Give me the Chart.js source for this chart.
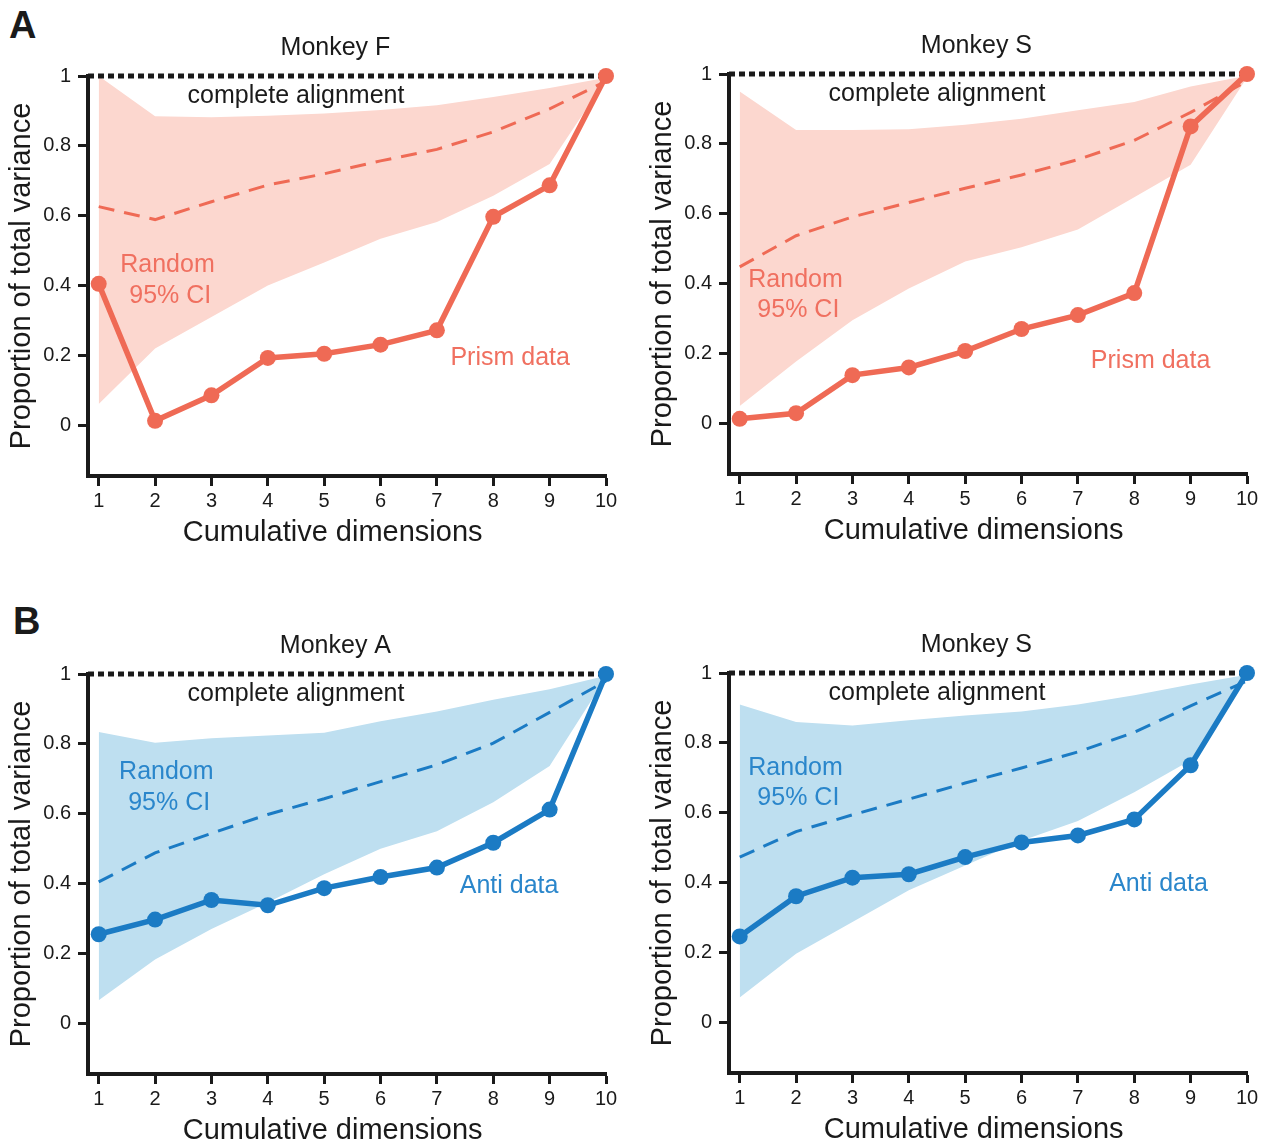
<!DOCTYPE html>
<html>
<head>
<meta charset="utf-8">
<script src="https://cdn.jsdelivr.net/npm/chart.js@4.4.1/dist/chart.umd.min.js"></script>
<style>
  body { margin: 0; background: #fff; width: 1263px; height: 1145px; overflow: hidden; position: relative; font-family: "Liberation Sans", Arial, sans-serif; }
  .panel { position: absolute; }
  .tag { position: absolute; font-weight: bold; font-size: 38px; color: #1a1a1a; line-height: 1; }
</style>
</head>
<body>
<div class="tag" style="left:9px;top:6px">A</div>
<div class="tag" style="left:13px;top:602px">B</div>
<canvas class="panel" id="monkeyF" width="622" height="560" style="left:0;top:0"></canvas>
<canvas class="panel" id="monkeyS1" width="622" height="560" style="left:641px;top:-2px"></canvas>
<canvas class="panel" id="monkeyA" width="622" height="560" style="left:0;top:598px"></canvas>
<canvas class="panel" id="monkeyS2" width="622" height="560" style="left:641px;top:597px"></canvas>
<script>
// axes
const dims = [1, 2, 3, 4, 5, 6, 7, 8, 9, 10];
const yTicks = [0, 0.2, 0.4, 0.6, 0.8, 1];
const X_MIN = 0.81;
const Y_MIN = -0.145;

// A: Monkey F (prism)
const fData  = [0.405, 0.013, 0.086, 0.193, 0.205, 0.231, 0.272, 0.597, 0.687, 1.0];
const fMean  = [0.626, 0.589, 0.640, 0.688, 0.720, 0.757, 0.790, 0.840, 0.906, 0.985];
const fUpper = [1.0, 0.885, 0.882, 0.886, 0.893, 0.903, 0.916, 0.940, 0.966, 0.995];
const fLower = [0.061, 0.220, 0.310, 0.400, 0.466, 0.534, 0.582, 0.657, 0.748, 0.990];

// A: Monkey S (prism)
const s1Data  = [0.013, 0.029, 0.138, 0.160, 0.207, 0.270, 0.310, 0.373, 0.850, 1.0];
const s1Mean  = [0.448, 0.537, 0.591, 0.632, 0.673, 0.711, 0.755, 0.810, 0.890, 0.980];
const s1Upper = [0.950, 0.840, 0.840, 0.842, 0.855, 0.872, 0.896, 0.920, 0.964, 0.995];
const s1Lower = [0.050, 0.177, 0.295, 0.386, 0.463, 0.504, 0.555, 0.647, 0.740, 0.990];

// B: Monkey A (anti)
const aData  = [0.255, 0.297, 0.353, 0.338, 0.387, 0.419, 0.446, 0.517, 0.612, 1.0];
const aMean  = [0.405, 0.488, 0.544, 0.598, 0.643, 0.692, 0.740, 0.802, 0.890, 0.980];
const aUpper = [0.834, 0.803, 0.816, 0.824, 0.832, 0.865, 0.893, 0.926, 0.956, 0.995];
const aLower = [0.066, 0.183, 0.270, 0.346, 0.427, 0.500, 0.550, 0.633, 0.737, 0.990];

// B: Monkey S (anti)
const s2Data  = [0.246, 0.361, 0.414, 0.424, 0.473, 0.515, 0.535, 0.581, 0.736, 1.0];
const s2Mean  = [0.473, 0.546, 0.594, 0.639, 0.685, 0.728, 0.774, 0.830, 0.906, 0.977];
const s2Upper = [0.910, 0.860, 0.850, 0.865, 0.878, 0.890, 0.910, 0.936, 0.967, 0.995];
const s2Lower = [0.071, 0.196, 0.287, 0.378, 0.449, 0.520, 0.576, 0.659, 0.750, 0.990];

const salmon = { line: '#ef6a55', band: '#fcd7cf', text: '#f07060' };
const blue = { line: '#1b7bc4', band: '#bedff0', text: '#2a86cb' };
const INK = '#1a1a1a';
const FONT = '"Liberation Sans", Arial, sans-serif';

const pts = vals => vals.map((v, i) => ({ x: dims[i], y: v }));

// text drawn at data coordinates (titles, labels, x-axis title)
const panelText = {
  id: 'panelText',
  afterDatasetsDraw(chart, args, opts) {
    const { ctx, scales: { x, y } } = chart;
    ctx.save();
    ctx.textAlign = 'center';
    ctx.textBaseline = 'middle';
    opts.items.forEach(it => {
      ctx.font = it.size + 'px ' + FONT;
      ctx.fillStyle = it.color;
      ctx.fillText(it.text, x.getPixelForValue(it.x), y.getPixelForValue(it.y));
    });
    ctx.restore();
  }
};

function makePanel(id, title, dataLabel, data, mean, upper, lower, col, pos) {
  const items = [
    { text: title, x: 5.2, y: 1.08, size: 25, color: INK },
    { text: 'complete alignment', x: 4.5, y: 0.943, size: 25, color: INK },
    { text: 'Random', x: pos.random[0], y: pos.random[1], size: 25, color: col.text },
    { text: '95% CI', x: pos.random[0] + 0.05, y: pos.random[1] - 0.087, size: 25, color: col.text },
    { text: dataLabel, x: pos.data[0], y: pos.data[1], size: 25, color: col.text },
    { text: 'Cumulative dimensions', x: 5.15, y: Y_MIN - 0.163, size: 29, color: INK }
  ];
  new Chart(document.getElementById(id), {
    type: 'line',
    data: {
      datasets: [
        { data: pts(data), borderColor: col.line, backgroundColor: col.line, borderWidth: 5.5,
          pointRadius: 8, pointBorderWidth: 0, clip: false, fill: false },
        { data: pts(mean), borderColor: col.line, borderWidth: 3, borderDash: [16, 10],
          pointRadius: 0, clip: false, fill: false },
        { data: [{ x: X_MIN, y: 1 }, { x: 10, y: 1 }], borderColor: INK, borderWidth: 5,
          borderDash: [6, 4], borderCapStyle: 'butt', pointRadius: 0, clip: false, fill: false },
        { data: pts(upper), borderWidth: 0, borderColor: 'rgba(0,0,0,0)', backgroundColor: col.band,
          pointRadius: 0, fill: '+1' },
        { data: pts(lower), borderWidth: 0, borderColor: 'rgba(0,0,0,0)', pointRadius: 0, fill: false }
      ]
    },
    options: {
      responsive: false,
      animation: false,
      layout: { padding: { top: 76, right: 16, bottom: 0, left: 0 } },
      plugins: { legend: { display: false }, tooltip: { enabled: false }, panelText: { items } },
      scales: {
        x: {
          type: 'linear', min: X_MIN, max: 10,
          afterBuildTicks: s => { s.ticks = dims.map(v => ({ value: v })); },
          afterFit: s => { s.height = 84; },
          grid: { drawOnChartArea: false, drawTicks: true, tickLength: 10, tickWidth: 3, tickColor: INK },
          border: { display: true, width: 4, color: INK },
          ticks: { padding: 3, color: INK, font: { size: 20, family: FONT }, maxRotation: 0, autoSkip: false },
          title: { display: false }
        },
        y: {
          type: 'linear', min: Y_MIN, max: 1,
          afterBuildTicks: s => { s.ticks = yTicks.map(v => ({ value: v })); },
          afterFit: s => { s.width = 88; },
          grid: { drawOnChartArea: false, drawTicks: true, tickLength: 10, tickWidth: 3, tickColor: INK },
          border: { display: true, width: 4, color: INK },
          ticks: { padding: 7, color: INK, font: { size: 20, family: FONT }, callback: v => String(v) },
          title: { display: true, text: 'Proportion of total variance', color: INK,
                   font: { size: 29, family: FONT }, padding: { top: 5, bottom: 0 } }
        }
      }
    },
    plugins: [panelText]
  });
}

makePanel('monkeyF', 'Monkey F', 'Prism data', fData, fMean, fUpper, fLower, salmon,
  { random: [2.22, 0.458], data: [8.3, 0.192] });
makePanel('monkeyS1', 'Monkey S', 'Prism data', s1Data, s1Mean, s1Upper, s1Lower, salmon,
  { random: [1.99, 0.41], data: [8.29, 0.177] });
makePanel('monkeyA', 'Monkey A', 'Anti data', aData, aMean, aUpper, aLower, blue,
  { random: [2.2, 0.718], data: [8.28, 0.394] });
makePanel('monkeyS2', 'Monkey S', 'Anti data', s2Data, s2Mean, s2Upper, s2Lower, blue,
  { random: [1.99, 0.728], data: [8.43, 0.397] });
</script>
</body>
</html>
